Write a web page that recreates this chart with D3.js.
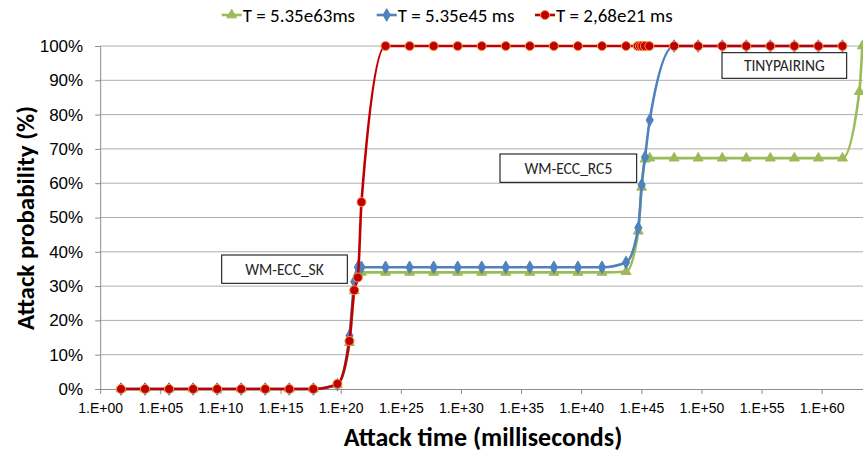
<!DOCTYPE html>
<html>
<head>
<meta charset="utf-8">
<script src="https://cdn.jsdelivr.net/npm/d3@7/dist/d3.min.js"></script>
<style>
  body { margin: 0; background: #fff; }
  svg { display: block; font-family: Carlito, Lato, sans-serif; }
</style>
</head>
<body>
<svg id="chart" width="863" height="454"></svg>
<script>
// x values are attack times in ms (log axis), y values in %
const greenX = [5.35e1, 5.35e3, 5.35e5, 5.35e7, 5.35e9, 5.35e11, 5.35e13, 5.35e15, 5.35e17, 5.35e19,
  5.35e20, 1.34e21, 2.68e21, 5.35e21, 5.35e23, 5.35e25, 5.35e27, 5.35e29, 5.35e31, 5.35e33, 5.35e35,
  5.35e37, 5.35e39, 5.35e41, 5.35e43, 5.6e44, 1.07e45, 2.04e45, 5.0e45, 5.35e47, 5.35e49, 5.35e51,
  5.35e53, 5.35e55, 5.35e57, 5.35e59, 5.35e61, 1.35e63, 2.4e63];
const greenY = [0, 0, 0, 0, 0, 0, 0, 0, 0, 1.2,
  13.5, 28.6, 33.7, 34.0, 34.0, 34.0, 34.0, 34.0, 34.0, 34.0, 34.0,
  34.0, 34.0, 34.0, 34.2, 46.0, 58.8, 67.0, 67.3, 67.3, 67.3, 67.3,
  67.3, 67.3, 67.3, 67.3, 67.3, 86.7, 100];

const blueX = [5.35e1, 5.35e3, 5.35e5, 5.35e7, 5.35e9, 5.35e11, 5.35e13, 5.35e15, 5.35e17, 5.35e19,
  5.35e20, 1.34e21, 2.68e21, 5.35e21, 5.35e23, 5.35e25, 5.35e27, 5.35e29, 5.35e31, 5.35e33, 5.35e35,
  5.35e37, 5.35e39, 5.35e41, 5.35e43, 5.6e44, 1.07e45, 2.04e45, 5.0e45, 5.35e47, 5.35e49, 5.35e51,
  5.35e53, 5.35e55, 5.35e57, 5.35e59, 5.35e61];
const blueY = [0, 0, 0, 0, 0, 0, 0, 0, 0, 1.3,
  15.5, 31.3, 35.5, 35.5, 35.5, 35.5, 35.5, 35.5, 35.5, 35.5, 35.5,
  35.5, 35.5, 35.5, 36.9, 47.0, 59.5, 67.6, 78.4, 100, 100, 100,
  100, 100, 100, 100, 100];

const redX = [5.35e1, 5.35e3, 5.35e5, 5.35e7, 5.35e9, 5.35e11, 5.35e13, 5.35e15, 5.35e17, 5.35e19,
  5.35e20, 1.34e21, 2.68e21, 5.35e21, 5.35e23, 5.35e25, 5.35e27, 5.35e29, 5.35e31, 5.35e33, 5.35e35,
  5.35e37, 5.35e39, 5.35e41, 5.35e43, 5.0e44, 7.8e44, 1.2e45, 2.0e45, 4.6e45, 5.35e47, 5.35e49,
  5.35e51, 5.35e53, 5.35e55, 5.35e57, 5.35e59, 5.35e61];
const redY = [0, 0, 0, 0, 0, 0, 0, 0, 0, 1.5,
  14.0, 28.8, 32.5, 54.5, 100, 100, 100, 100, 100, 100, 100,
  100, 100, 100, 100, 100, 100, 100, 100, 100, 100, 100,
  100, 100, 100, 100, 100, 100];

const seriesNames = ["T = 5.35e63ms", "T = 5.35e45 ms", "T = 2,68e21 ms"];
const xTicks = [1e0, 1e5, 1e10, 1e15, 1e20, 1e25, 1e30, 1e35, 1e40, 1e45, 1e50, 1e55, 1e60];
const xTickLabels = ["1.E+00", "1.E+05", "1.E+10", "1.E+15", "1.E+20", "1.E+25", "1.E+30",
  "1.E+35", "1.E+40", "1.E+45", "1.E+50", "1.E+55", "1.E+60"];
const yTicks = [0, 10, 20, 30, 40, 50, 60, 70, 80, 90, 100];
const notes = ["WM-ECC_SK", "WM-ECC_RC5", "TINYPAIRING"];

const svg = d3.select("#chart");
const plotLeft = 100.2, plotTop = 46, plotBottom = 389;

const x = d3.scaleLog().domain([1, 1e64]).range([plotLeft, plotLeft + 12.025 * 64]);
const y = d3.scaleLinear().domain([0, 100]).range([plotBottom, plotTop]);

// gridlines
svg.append("g")
    .selectAll("line")
    .data(yTicks.filter(d => d > 0))
    .enter()
    .append("line")
    .attr("x1", plotLeft).attr("x2", 863)
    .attr("y1", d => y(d)).attr("y2", d => y(d))
    .attr("stroke", "#adadad").attr("stroke-width", 1);

// axes
const xAxis = svg.append("g")
    .attr("transform", `translate(0,${plotBottom})`)
    .call(d3.axisBottom(x).tickValues(xTicks).tickSize(5).tickPadding(9)
        .tickFormat((d, i) => xTickLabels[i]));
xAxis.select(".domain").attr("stroke", "#8c8c8c").attr("d", `M${plotLeft},0.5H863`);
xAxis.selectAll(".tick line").attr("stroke", "#8c8c8c");
xAxis.selectAll("text").style("font-size", "14px").attr("fill", "#000");

const yAxis = svg.append("g")
    .attr("transform", `translate(${plotLeft},0)`)
    .call(d3.axisLeft(y).tickValues(yTicks).tickSize(5).tickPadding(12)
        .tickFormat(d => d + "%"));
yAxis.select(".domain").attr("stroke", "#8c8c8c");
yAxis.selectAll(".tick line").attr("stroke", "#8c8c8c");
yAxis.selectAll("text").style("font-size", "17px").attr("fill", "#000");

// axis titles
svg.append("text")
    .attr("transform", "translate(34,218) rotate(-90)")
    .attr("text-anchor", "middle")
    .style("font-size", "25px").style("font-weight", "bold")
    .text("Attack probability (%)");
svg.append("text")
    .attr("x", 483).attr("y", 446)
    .attr("text-anchor", "middle")
    .style("font-size", "26px").style("font-weight", "bold")
    .text("Attack time (milliseconds)");

const series = [
    { name: seriesNames[0], xs: greenX, ys: greenY, color: "#9BBB59", symbol: d3.symbolTriangle, size: 42, stroke: "#9BBB59" },
    { name: seriesNames[1], xs: blueX, ys: blueY, color: "#4F81BD", symbol: d3.symbolDiamond, size: 45, stroke: "#4F81BD" },
    { name: seriesNames[2], xs: redX, ys: redY, color: "#C00000", symbol: d3.symbolCircle, size: 64, stroke: "#F79646" }
];

const line = d3.line()
    .x(d => x(d[0]))
    .y(d => y(d[1]))
    .curve(d3.curveMonotoneX);

series.forEach(s => {
    const pts = s.xs.map((v, i) => [v, s.ys[i]]);
    const g = svg.append("g");
    g.append("path")
        .attr("d", line(pts))
        .attr("fill", "none")
        .attr("stroke", s.color)
        .attr("stroke-width", 2.6);
    g.selectAll("path.pt")
        .data(pts)
        .enter()
        .append("path")
        .attr("class", "pt")
        .attr("transform", d => `translate(${x(d[0])},${y(d[1])})`)
        .attr("d", d3.symbol(s.symbol, s.size))
        .attr("fill", s.color)
        .attr("stroke", s.stroke)
        .attr("stroke-width", 1);
});

// legend
const legendPos = [221.7, 376.7, 535];
series.forEach((s, i) => {
    const g = svg.append("g").attr("transform", `translate(${legendPos[i]},15)`);
    g.append("line").attr("x1", 0).attr("x2", 20).attr("stroke", s.color).attr("stroke-width", 2.6);
    g.append("path").attr("transform", "translate(10,0)")
        .attr("d", d3.symbol(s.symbol, s.size))
        .attr("fill", s.color).attr("stroke", s.stroke);
    g.append("text").attr("x", 21).attr("y", 6.5)
        .style("font-size", "19px")
        .text(s.name);
});

// annotation boxes
const noteBoxes = [
    { x0: 221.7, y0: 255, x1: 347.3, y1: 283.3 },
    { x0: 500, y0: 154, x1: 636.7, y1: 182.3 },
    { x0: 722, y0: 52.7, x1: 846.7, y1: 78.3 }
];
noteBoxes.forEach((b, i) => {
    svg.append("rect")
        .attr("x", b.x0).attr("y", b.y0)
        .attr("width", b.x1 - b.x0).attr("height", b.y1 - b.y0)
        .attr("fill", "#fff").attr("stroke", "#000").attr("stroke-width", 1);
    svg.append("text")
        .attr("x", (b.x0 + b.x1) / 2).attr("y", (b.y0 + b.y1) / 2 + 5.5)
        .attr("text-anchor", "middle")
        .style("font-size", "15.5px")
        .attr("fill", "#262626")
        .text(notes[i]);
});
</script>
</body>
</html>
